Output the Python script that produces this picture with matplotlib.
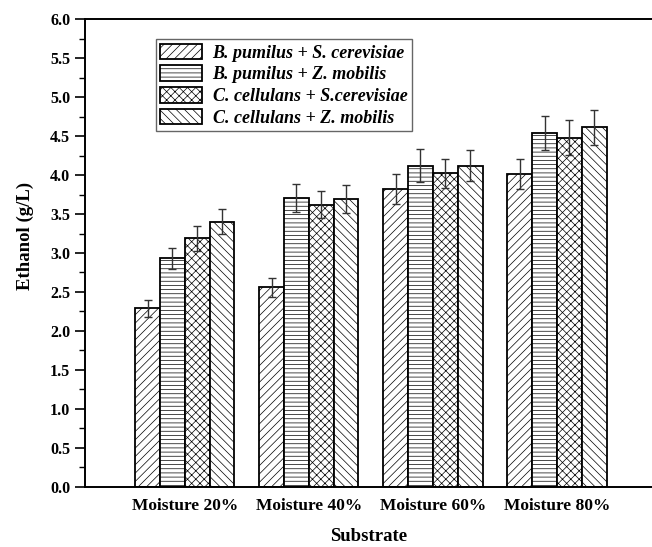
import numpy as np
import matplotlib
matplotlib.use("Agg")
from matplotlib import pyplot as plt
from matplotlib.ticker import MultipleLocator, FormatStrFormatter

# data
groups = ["Moisture 20%", "Moisture 40%", "Moisture 60%", "Moisture 80%"]
series = ["B. pumilus + S. cerevisiae",
          "B. pumilus + Z. mobilis",
          "C. cellulans + S.cerevisiae",
          "C. cellulans + Z. mobilis"]
bp_sc = [2.29, 2.56, 3.82, 4.01]
bp_zm = [2.93, 3.71, 4.12, 4.54]
cc_sc = [3.19, 3.62, 4.02, 4.48]
cc_zm = [3.40, 3.69, 4.12, 4.61]
bp_sc_err = [0.11, 0.12, 0.19, 0.19]
bp_zm_err = [0.14, 0.18, 0.21, 0.22]
cc_sc_err = [0.16, 0.17, 0.19, 0.22]
cc_zm_err = [0.16, 0.18, 0.20, 0.22]

values = [bp_sc, bp_zm, cc_sc, cc_zm]
errors = [bp_sc_err, bp_zm_err, cc_sc_err, cc_zm_err]
hatches = ["////", "----", "xxxx", "\\\\\\\\"]

plt.rcParams["font.family"] = "Liberation Serif"
plt.rcParams["font.weight"] = "bold"
plt.rcParams["hatch.linewidth"] = 0.5
plt.rcParams["hatch.color"] = "#555555"

fig = plt.figure(figsize=(6.52, 5.47), dpi=100)
ax = fig.add_axes([0.130, 0.110, 0.870, 0.855])

x = np.arange(len(groups))
width = 0.2
for i in range(4):
    pos = x + (i - 1.5) * width
    ax.bar(pos, values[i], width, color="white", edgecolor="black",
           linewidth=1.3, hatch=hatches[i], label=series[i], zorder=2)
    ax.errorbar(pos, values[i], yerr=errors[i], fmt="none", ecolor="#333333",
                elinewidth=1.0, capsize=3, capthick=1.0, zorder=3)

ax.set_xlim(-0.806, 3.766)
ax.set_ylim(0, 6.0)
ax.yaxis.set_major_locator(MultipleLocator(0.5))
ax.yaxis.set_minor_locator(MultipleLocator(0.25))
ax.yaxis.set_major_formatter(FormatStrFormatter("%.1f"))
ax.set_xticks(x)
ax.set_xticklabels(groups)
ax.tick_params(axis="x", length=0, pad=8, labelsize=12.5)
ax.tick_params(axis="y", which="major", length=7, width=1.2, direction="out", labelsize=11.5)
ax.tick_params(axis="y", which="minor", length=4, width=1.0, direction="out")

for s in ["left", "top", "bottom"]:
    ax.spines[s].set_linewidth(1.4)
ax.spines["right"].set_visible(False)

ax.set_xlabel("Substrate", fontsize=13.5, fontweight="bold", labelpad=10)
ax.set_ylabel("Ethanol (g/L)", fontsize=13.5, fontweight="bold")
ax.yaxis.set_label_coords(-0.09, 0.536)

leg = ax.legend(loc="upper left", bbox_to_anchor=(0.125, 0.957), borderaxespad=0,
                prop={"family": "Liberation Serif", "weight": "bold",
                      "style": "italic", "size": 13},
                handlelength=2.3, handleheight=0.95, labelspacing=0.2,
                handletextpad=0.6, borderpad=0.25, fancybox=False,
                edgecolor="#666666", framealpha=1)
leg.get_frame().set_linewidth(1.0)

fig.savefig("out.png", dpi=100)
